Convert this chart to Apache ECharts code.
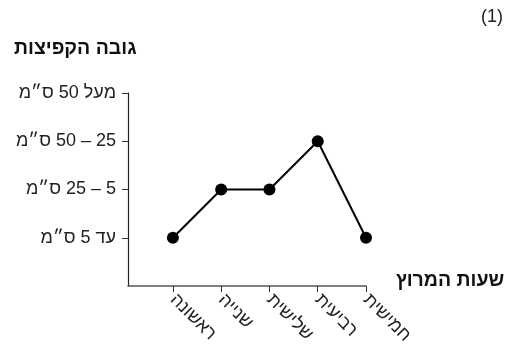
<!DOCTYPE html>
<html>
<head>
<meta charset="utf-8">
<script src="https://cdn.jsdelivr.net/npm/echarts@6/dist/echarts.min.js"></script>
<style>
html,body{margin:0;padding:0;background:#fff;}
#c{width:513px;height:351px;direction:rtl;}
</style>
</head>
<body>
<div id="c"></div>
<script>
var categories = ['ראשונה', 'שנייה', 'שלישית', 'רביעית', 'חמישית'];
var levelLabels = ['עד 5 ס״מ', '5 – 25 ס״מ', '25 – 50 ס״מ', 'מעל 50 ס״מ'];
var values = [1, 2, 2, 3, 1];
var yTitle = 'גובה הקפיצות';
var xTitle = 'שעות המרוץ';
var figNumber = '(1)';

var chart = echarts.init(document.getElementById('c'), null, {renderer: 'canvas'});
var font = '"Liberation Sans", Arial, "DejaVu Sans", sans-serif';
var pos = categories.map(function (c, i) { return i + 1; });
var option = {
  backgroundColor: '#fff',
  animation: false,
  grid: {left: 128, right: 147, top: 93, bottom: 65, containLabel: false},
  title: [
    {text: yTitle, left: 14, top: 39, padding: 0, textStyle: {fontFamily: font, fontSize: 19.5, fontWeight: 'bold', color: '#111'}},
    {text: xTitle, left: 396, top: 271, padding: 0, textStyle: {fontFamily: font, fontSize: 19.5, fontWeight: 'bold', color: '#111'}},
    {text: figNumber, left: 481, top: 8, padding: 0, textStyle: {fontFamily: font, fontSize: 18, fontWeight: 'normal', color: '#222'}}
  ],
  xAxis: {
    type: 'value',
    min: 0.07,
    max: 5,
    splitLine: {show: false},
    axisLine: {show: true, onZero: false, lineStyle: {color: '#555', width: 1.5}},
    axisTick: {show: true, customValues: pos, inside: false, length: 6, lineStyle: {color: '#333', width: 1}},
    axisLabel: {
      customValues: pos,
      rotate: -45,
      margin: 11,
      fontFamily: font,
      fontSize: 18,
      color: '#222',
      formatter: function (v) { return categories[Math.round(v) - 1] || ''; }
    }
  },
  yAxis: {
    type: 'value',
    min: 0,
    max: 4,
    interval: 1,
    splitLine: {show: false},
    axisLine: {show: true, onZero: false, lineStyle: {color: '#222', width: 1.2}},
    axisTick: {show: true, customValues: [1, 2, 3, 4], length: 6, lineStyle: {color: '#333', width: 1}},
    axisLabel: {
      customValues: [1, 2, 3, 4],
      margin: 12,
      fontFamily: font,
      fontSize: 18,
      color: '#222',
      formatter: function (v) { return levelLabels[Math.round(v) - 1] || ''; }
    }
  },
  series: [{
    type: 'line',
    data: values.map(function (v, i) { return [pos[i], v]; }),
    symbol: 'circle',
    symbolSize: 12,
    lineStyle: {color: '#000', width: 2},
    itemStyle: {color: '#000'}
  }]
};
chart.setOption(option);
</script>
</body>
</html>
